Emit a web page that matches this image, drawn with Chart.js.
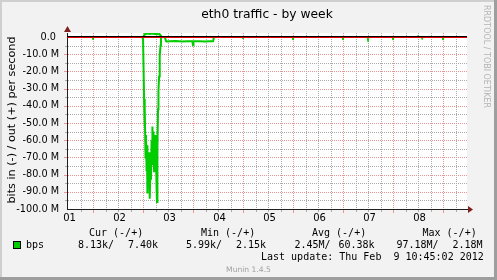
<!DOCTYPE html>
<html>
<head>
<meta charset="utf-8">
<script src="https://cdn.jsdelivr.net/npm/chart.js@4"></script>
<style>
  html, body { margin: 0; padding: 0; background: #f2f2f2; }
  canvas { display: block; }
</style>
</head>
<body>
<canvas id="graph" width="497" height="280"></canvas>
<script>
// eth0 traffic - by week (munin 1.4.5 / rrdtool look)
// x values are hours since the left edge of the graph, y values are in Mbit/s

const inHours = [0, 12.0, 12.5, 13.0, 36.0, 36.5, 37.0, 37.2, 37.4, 37.7, 37.9, 38.2, 38.4, 38.6, 38.9, 39.1,
  39.4, 39.6, 39.8, 40.1, 40.3, 40.6, 40.8, 41.0, 41.3, 41.5, 41.8, 42.0, 42.2, 42.5, 42.7, 43.0, 43.2,
  43.4, 43.7, 43.9, 44.2, 44.4, 44.6, 44.9, 45.1, 45.4, 47.0, 47.5, 47.8, 49.4, 52.3, 55.2, 58.1, 60.2,
  60.5, 60.7, 63.4, 66.2, 68.6, 70.1, 70.6, 84.0, 84.5, 85.0, 108.0, 108.5, 109.0, 132.0, 132.5, 133.0,
  144.0, 144.5, 145.0, 156.0, 156.5, 157.0, 170.0, 170.5, 171.0, 180.0, 180.5, 181.0, 192];
const inMbps = [-0.01, -0.01, -1.6, -0.01, -0.01, -1.0, -36, -52, -41, -70, -57, -78, -63, -91, -72, -81,
  -67, -86, -94, -75, -83, -60, -74, -52, -70, -55, -78, -62, -72, -57, -68, -88, -96,
  -64, -42, -31, -23, -17, -11, -5, -1, -0.01, -0.01, -2.3, -2.6, -2.5, -2.3, -2.6, -2.4, -2.5,
  -4.8, -2.5, -2.4, -2.6, -2.4, -2.5, -0.01, -0.01, -1.2, -0.01, -0.01, -1.8, -0.01, -0.01, -1.8, -0.01,
  -0.01, -2.8, -0.01, -0.01, -1.8, -0.01, -0.01, -1.5, -0.01, -0.01, -1.8, -0.01, -0.01];

const outHours = [0, 36.5, 37.0, 37.2, 37.9, 38.9, 39.8, 40.8, 41.8, 42.7, 43.7, 44.4, 44.9, 45.1, 168.0, 168.5, 169.0, 192];
const outMbps = [0.01, 0.01, 0.9, 1.6, 1.9, 2.0, 1.8, 2.0, 1.8, 1.9, 1.6, 1.7, 1.0, 0.01, 0.01, 0.9, 0.01, 0.01];

const dayLabels = ['01', '02', '03', '04', '05', '06', '07', '08'];
const yLabels = ['0.0 ', '-10.0 M', '-20.0 M', '-30.0 M', '-40.0 M', '-50.0 M', '-60.0 M', '-70.0 M', '-80.0 M', '-90.0 M', '-100.0 M'];

const legendHeads = ['Cur (-/+)', 'Min (-/+)', 'Avg (-/+)', 'Max (-/+)'];
const legendIn = ['8.13k/', '5.99k/', '2.45M/', '97.18M/'];
const legendOut = ['7.40k', '2.15k', '60.38k', '2.18M'];

const GRID = '#ababab';
const MGRID = '#eb9595';
const LINE = '#00cc00';

function zip(xs, ys) {
  return xs.map((x, i) => ({ x: x, y: ys[i] }));
}

function isMajorHour(v) {
  return Math.abs(((v - 12.5) % 24 + 24) % 24) < 0.01;
}

// the busy stretch (hours 36-72) looks heavier than the lone spikes
function segWidth(c) {
  const x = c.p0.parsed.x;
  return x >= 36 && x < 72 ? 2 : 1;
}

// rrdtool style dotted lines, one pixel on, one off
function dotsH(ctx, x1, x2, y) {
  for (let x = x1; x <= x2; x += 2) ctx.fillRect(x, y, 1, 1);
}
function dotsV(ctx, x, y1, y2) {
  for (let y = y1; y <= y2; y += 2) ctx.fillRect(x, y, 1, 1);
}

// background, bevel, grid, zero lines, arrows and all the rrdtool texts
const muninFrame = {
  id: 'muninFrame',
  beforeDraw(chart) {
    const { ctx, width, height, chartArea: a } = chart;
    ctx.save();
    ctx.fillStyle = '#f2f2f2';
    ctx.fillRect(0, 0, width, height);
    ctx.fillStyle = '#cfcfcf';
    ctx.fillRect(0, 0, width, 2);
    ctx.fillRect(0, 0, 2, height);
    ctx.fillStyle = '#9e9e9e';
    ctx.fillRect(0, height - 3, width, 3);
    ctx.fillRect(width - 3, 0, 3, height);
    ctx.fillStyle = '#ffffff';
    ctx.fillRect(a.left, a.top, a.right - a.left, a.bottom - a.top);
    ctx.restore();
  },
  beforeDatasetsDraw(chart) {
    const { ctx, chartArea: a } = chart;
    const xs = chart.scales.x, ys = chart.scales.y;
    ctx.save();
    ys.ticks.forEach((t) => {
      if (t.value === 0 || t.value === -100) return;
      const py = Math.round(ys.getPixelForValue(t.value));
      const major = t.value % 10 === 0;
      ctx.fillStyle = major ? MGRID : GRID;
      dotsH(ctx, a.left + 1, a.right - 1, py);
      ctx.fillRect(a.left - (major ? 3 : 2), py, major ? 3 : 2, 1);
    });
    xs.ticks.forEach((t) => {
      if (t.name) return;
      const px = Math.round(xs.getPixelForValue(t.value));
      const major = isMajorHour(t.value);
      ctx.fillStyle = major ? MGRID : GRID;
      dotsV(ctx, px, a.top, a.bottom - 1);
      ctx.fillRect(px, a.bottom + 1, 1, major ? 3 : 2);
    });
    ctx.restore();
  },
  afterDatasetsDraw(chart) {
    const { ctx, chartArea: a } = chart;
    const y0 = Math.round(chart.scales.y.getPixelForValue(0));
    ctx.save();
    ctx.fillStyle = '#000000';
    ctx.fillRect(a.left, y0 - 1, a.right - a.left, 1);
    ctx.fillStyle = '#e00000';
    ctx.fillRect(a.left, y0, a.right - a.left, 1);
    ctx.restore();
  },
  afterDraw(chart) {
    const { ctx, chartArea: a } = chart;
    ctx.save();
    // axis arrows
    ctx.fillStyle = '#1f1f1f';
    ctx.fillRect(a.right, a.bottom, 2, 1);
    ctx.fillStyle = '#801f1f';
    ctx.beginPath();
    ctx.moveTo(a.right + 1, a.bottom - 3);
    ctx.lineTo(a.right + 1, a.bottom + 4);
    ctx.lineTo(a.right + 6, a.bottom + 0.5);
    ctx.closePath();
    ctx.fill();
    ctx.beginPath();
    ctx.moveTo(a.left - 3, a.top - 1);
    ctx.lineTo(a.left + 4, a.top - 1);
    ctx.lineTo(a.left + 0.5, a.top - 7);
    ctx.closePath();
    ctx.fill();

    // title
    ctx.fillStyle = '#000';
    ctx.font = '12.3px "DejaVu Sans"';
    ctx.textAlign = 'center';
    ctx.textBaseline = 'alphabetic';
    ctx.fillText('eth0 traffic - by week', (a.left + a.right) / 2, 18);

    // vertical unit label
    ctx.save();
    ctx.translate(14.5, 120);
    ctx.rotate(-Math.PI / 2);
    ctx.font = '11.2px "DejaVu Sans"';
    ctx.fillText('bits in (-) / out (+) per second', 0, 0);
    ctx.restore();

    // watermark on the right
    ctx.save();
    ctx.translate(484, 5);
    ctx.rotate(Math.PI / 2);
    ctx.textAlign = 'left';
    ctx.fillStyle = '#b4b4b4';
    ctx.font = '8px "DejaVu Sans"';
    ctx.fillText('RRDTOOL / TOBI OETIKER', 0, 0);
    ctx.restore();

    // legend
    ctx.textAlign = 'left';
    ctx.font = '10px "DejaVu Sans Mono"';
    const headX = [89, 201, 312, 422.5];
    legendHeads.forEach((t, i) => ctx.fillText(t, headX[i], 236));
    ctx.fillStyle = LINE;
    ctx.fillRect(13, 242, 8, 7);
    ctx.strokeStyle = '#000';
    ctx.lineWidth = 1;
    ctx.strokeRect(13.5, 241.5, 7, 7);
    ctx.fillStyle = '#000';
    ctx.fillText('bps', 26, 248);
    const inX = [78, 186, 294.5, 396.5];
    const outX = [128, 236, 338.5, 452.5];
    legendIn.forEach((t, i) => ctx.fillText(t, inX[i], 248));
    legendOut.forEach((t, i) => ctx.fillText(t, outX[i], 248));
    ctx.fillText('Last update: Thu Feb  9 10:45:02 2012', 261, 260);

    ctx.textAlign = 'center';
    ctx.fillStyle = '#a0a0a0';
    ctx.font = '7.6px "DejaVu Sans"';
    ctx.fillText('Munin 1.4.5', 248.5, 272);
    ctx.restore();
  }
};

Chart.defaults.font.family = '"DejaVu Sans"';
Chart.defaults.color = '#000';

new Chart(document.getElementById('graph').getContext('2d'), {
  type: 'line',
  data: {
    datasets: [
      { label: 'in', data: zip(inHours, inMbps), borderColor: LINE, borderWidth: 2, pointRadius: 0, tension: 0, fill: false,
        segment: { borderWidth: segWidth } },
      { label: 'out', data: zip(outHours, outMbps), borderColor: LINE, borderWidth: 2, pointRadius: 0, tension: 0, fill: false,
        segment: { borderWidth: segWidth } }
    ]
  },
  options: {
    responsive: false,
    animation: false,
    devicePixelRatio: 1,
    layout: { padding: { left: 0, top: 33, right: 30, bottom: 0 } },
    plugins: {
      legend: { display: false },
      tooltip: { enabled: false },
      title: { display: false }
    },
    scales: {
      x: {
        type: 'linear',
        min: 0,
        max: 192,
        afterBuildTicks: (scale) => {
          const t = [];
          for (let h = 6.5; h < 192; h += 6) t.push({ value: h });
          dayLabels.forEach((n, i) => t.push({ value: 1.2 + 24 * i, name: n }));
          t.sort((p, q) => p.value - q.value);
          scale.ticks = t;
        },
        afterFit: (scale) => { scale.height = 71; },
        ticks: {
          autoSkip: false,
          maxRotation: 0,
          padding: 3,
          font: { size: 10 },
          callback: (v, i, ticks) => ticks[i].name || ''
        },
        grid: { display: false, drawTicks: false },
        border: { display: true, color: '#1f1f1f', width: 1 }
      },
      y: {
        type: 'linear',
        min: -100,
        max: 2.33,
        afterBuildTicks: (scale) => {
          const t = [];
          for (let v = -100; v <= 0; v += 5) t.push({ value: v });
          scale.ticks = t;
        },
        afterFit: (scale) => { scale.width = 67; },
        ticks: {
          autoSkip: false,
          padding: 8,
          font: { size: 9.7 },
          callback: (v) => (v % 10 === 0 ? yLabels[Math.round(-v / 10)] : '')
        },
        grid: { display: false, drawTicks: false },
        border: { display: true, color: '#1f1f1f', width: 1 }
      }
    }
  },
  plugins: [muninFrame]
});
</script>
</body>
</html>
